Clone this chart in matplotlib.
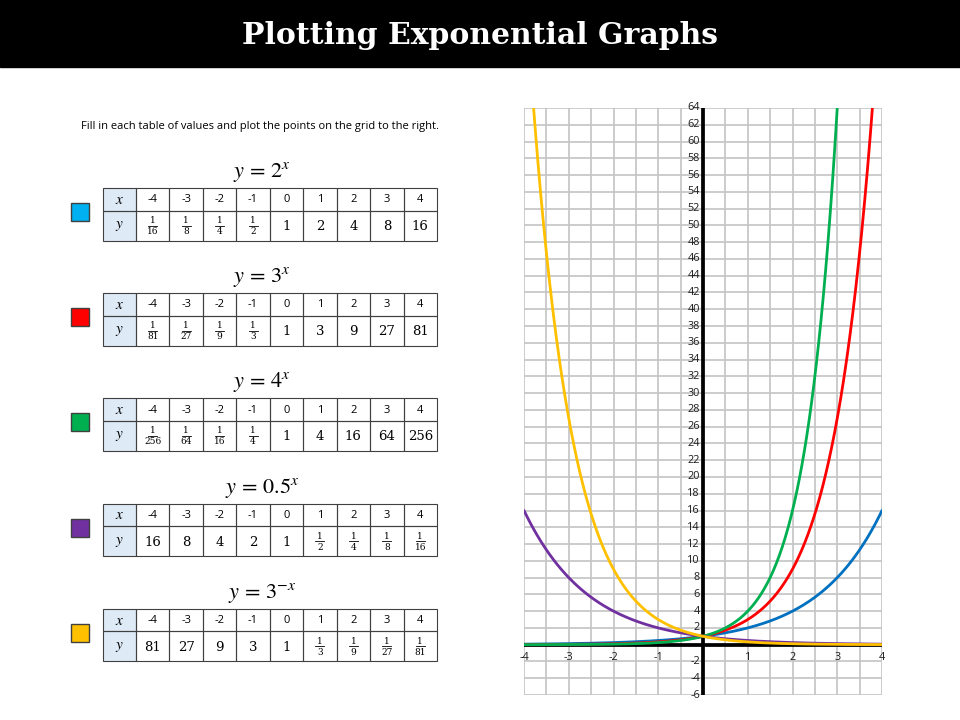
import numpy as np
import matplotlib
matplotlib.use("Agg")
import matplotlib.pyplot as plt
from matplotlib.patches import Rectangle

plt.rcParams['mathtext.fontset'] = 'stix'

# ---------------- data ----------------
title = "Plotting Exponential Graphs"
instruction = "Fill in each table of values and plot the points on the grid to the right."
x_values = [-4, -3, -2, -1, 0, 1, 2, 3, 4]
equations = [r"$y\,=\,2^{x}$", r"$y\,=\,3^{x}$", r"$y\,=\,4^{x}$", r"$y\,=\,0.5^{x}$", r"$y\,=\,3^{-x}$"]
y_2x = [1/16, 1/8, 1/4, 1/2, 1, 2, 4, 8, 16]
y_3x = [1/81, 1/27, 1/9, 1/3, 1, 3, 9, 27, 81]
y_4x = [1/256, 1/64, 1/16, 1/4, 1, 4, 16, 64, 256]
y_05x = [16, 8, 4, 2, 1, 1/2, 1/4, 1/8, 1/16]
y_3negx = [81, 27, 9, 3, 1, 1/3, 1/9, 1/27, 1/81]
y_labels_2x = ["1/16", "1/8", "1/4", "1/2", "1", "2", "4", "8", "16"]
y_labels_3x = ["1/81", "1/27", "1/9", "1/3", "1", "3", "9", "27", "81"]
y_labels_4x = ["1/256", "1/64", "1/16", "1/4", "1", "4", "16", "64", "256"]
y_labels_05x = ["16", "8", "4", "2", "1", "1/2", "1/4", "1/8", "1/16"]
y_labels_3negx = ["81", "27", "9", "3", "1", "1/3", "1/9", "1/27", "1/81"]
square_colors = ["#00B0F0", "#FF0000", "#00B050", "#7030A0", "#FFC000"]
line_colors = ["#0070C0", "#FF0000", "#00B050", "#7030A0", "#FFC000"]
y_ticks = [-6, -4, -2, 2, 4, 6, 8, 10, 12, 14, 16, 18, 20, 22, 24, 26, 28, 30, 32, 34, 36,
           38, 40, 42, 44, 46, 48, 50, 52, 54, 56, 58, 60, 62, 64]
x_ticks = [-4, -3, -2, -1, 1, 2, 3, 4]

series = [y_2x, y_3x, y_4x, y_05x, y_3negx]
labels = [y_labels_2x, y_labels_3x, y_labels_4x, y_labels_05x, y_labels_3negx]

# ---------------- figure ----------------
fig = plt.figure(figsize=(9.6, 7.2), dpi=100)
bg = fig.add_axes([0, 0, 1, 1])
bg.set_xlim(0, 960)
bg.set_ylim(720, 0)
bg.axis('off')

# title bar
bg.add_patch(Rectangle((0, 0), 960, 67, color='black'))
bg.text(480, 35, title, color='white', ha='center', va='center',
        fontsize=21.5, family='DejaVu Serif', fontweight='bold')

bg.text(260, 126, instruction, ha='center', va='center', fontsize=8.0, family='Open Sans')

left = 102.5
colw = 33.45
h1, h2 = 22.5, 30
sans = 'Open Sans'
for i in range(5):
    top = 188 + 105.2 * i
    bg.text(262, top - 11, equations[i], ha='center', va='baseline', fontsize=16)
    bg.add_patch(Rectangle((71, top + 15), 18, 18, facecolor=square_colors[i],
                           edgecolor='#404040', lw=1))
    # header cells
    bg.add_patch(Rectangle((left, top), colw, h1 + h2, facecolor='#DEEAF6', edgecolor='none'))
    for c in range(10):
        for (ry, rh) in [(top, h1), (top + h1, h2)]:
            bg.add_patch(Rectangle((left + c * colw, ry), colw, rh, facecolor='none',
                                   edgecolor='#404040', lw=0.8))
    bg.text(left + colw / 2, top + h1 / 2, r"$x$", ha='center', va='center', fontsize=11)
    bg.text(left + colw / 2, top + h1 + h2 / 2, r"$y$", ha='center', va='center', fontsize=11)
    for c in range(9):
        cx = left + (c + 1.5) * colw
        bg.text(cx, top + h1 / 2 + 0.5, str(x_values[c]), ha='center', va='center',
                fontsize=8, family=sans)
        lab = labels[i][c]
        cy = top + h1 + h2 / 2
        if '/' in lab:
            n, d = lab.split('/')
            bg.text(cx, cy - 5, n, ha='center', va='center', fontsize=6.5, family='DejaVu Serif')
            bg.plot([cx - 4.5, cx + 4.5], [cy, cy], color='black', lw=0.6)
            bg.text(cx, cy + 6, d, ha='center', va='center', fontsize=6.5, family='DejaVu Serif')
        else:
            bg.text(cx, cy + 1, lab, ha='center', va='center', fontsize=9.5, family='DejaVu Serif')

# ---------------- graph ----------------
ax = fig.add_axes([524 / 960, 25 / 720, 358 / 960, 587 / 720])
ax.set_xlim(-4, 4)
ax.set_ylim(-6, 64)
for s in ax.spines.values():
    s.set_visible(False)
ax.set_xticks(np.arange(-4, 4.01, 0.5))
ax.set_yticks(np.arange(-6, 64.01, 2))
ax.tick_params(length=0, labelbottom=False, labelleft=False)
ax.grid(True, color='#C4C4C4', lw=1.2)
ax.set_axisbelow(True)
ax.axhline(0, color='black', lw=2.7, zorder=3)
ax.axvline(0, color='black', lw=2.7, zorder=3)

xs = np.linspace(-4, 4, 600)
for ys, col in zip(series, line_colors):
    dense = np.exp(np.interp(xs, x_values, np.log(ys)))
    ax.plot(xs, dense, color=col, lw=2.0, zorder=4, solid_capstyle='round')

for t in y_ticks:
    ax.text(-0.07, t, str(t), ha='right', va='center', fontsize=7.8, family=sans,
            color='#1a1a1a', zorder=5)
for t in x_ticks:
    ax.text(t, -0.9, str(t), ha='center', va='top', fontsize=7.8, family=sans,
            color='#1a1a1a', zorder=5)

fig.savefig("out.png", dpi=100)
